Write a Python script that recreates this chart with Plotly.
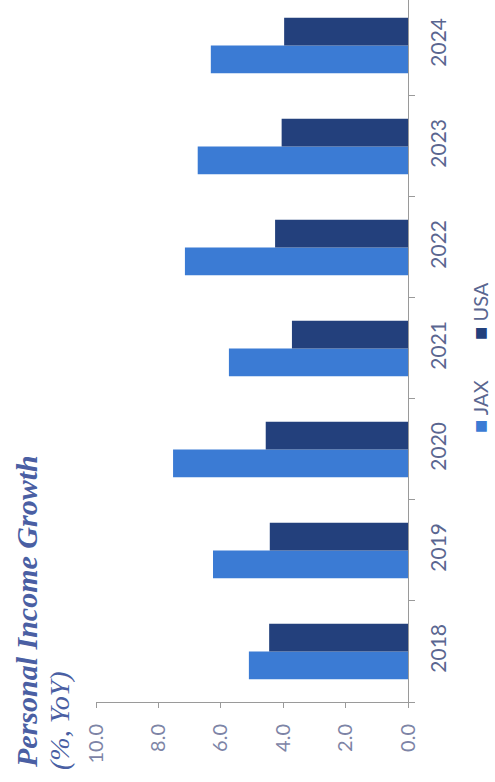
import plotly.graph_objects as go

years = ["2018", "2019", "2020", "2021", "2022", "2023", "2024"]
jax = [5.1, 6.25, 7.53, 5.74, 7.15, 6.74, 6.32]
usa = [4.45, 4.43, 4.56, 3.72, 4.26, 4.05, 3.97]
value_ticks = [0, 2, 4, 6, 8, 10]

JAX_COLOR = "#3b7bd4"
USA_COLOR = "#23407c"
TXT = "#5a6690"
TITLE_C = "#4a5fa3"

fig = go.Figure()
fig.add_trace(go.Bar(y=years, x=jax, orientation="h", name="JAX",
                     marker=dict(color=JAX_COLOR, line=dict(width=0))))
fig.add_trace(go.Bar(y=years, x=usa, orientation="h", name="USA",
                     marker=dict(color=USA_COLOR, line=dict(width=0))))

W, H = 495, 782
L, R, T, B = 96, 87, 0, 80
pw, ph = W - L - R, H - T - B


def px(x, y):
    return (x - L) / pw, (H - B - y) / ph


annots = []
tx, ty = px(26, 612)
annots.append(dict(text="<b><i>Personal Income Growth</i></b>", x=tx, y=ty,
                   xref="paper", yref="paper", showarrow=False, textangle=-90,
                   xanchor="center", yanchor="middle",
                   font=dict(family="Liberation Serif", size=30, color=TITLE_C)))
sx, sy = px(59, 721)
annots.append(dict(text="<i>(%, YoY)</i>", x=sx, y=sy,
                   xref="paper", yref="paper", showarrow=False, textangle=-90,
                   xanchor="center", yanchor="middle",
                   font=dict(family="Liberation Serif", size=28, color=TITLE_C)))
for name, col, cy in [("JAX", JAX_COLOR, 407), ("USA", USA_COLOR, 311)]:
    lx, ly = px(479, cy)
    annots.append(dict(text=f'<span style="color:{col};font-size:22px">■</span> {name}',
                       x=lx, y=ly,
                       xref="paper", yref="paper", showarrow=False, textangle=-90,
                       xanchor="center", yanchor="middle", borderpad=0,
                       font=dict(family="Lato", size=20, color=TXT)))

fig.update_layout(
    width=W, height=H,
    margin=dict(l=L, r=R, t=T, b=B, pad=0),
    paper_bgcolor="white", plot_bgcolor="white",
    barmode="group", bargap=0.45, bargroupgap=0,
    showlegend=False,
    annotations=annots,
    xaxis=dict(range=[10, 0], tickvals=value_ticks, tickformat=".1f",
               tickangle=-90, showgrid=False, zeroline=False,
               showline=True, linecolor="#9a9a9a", linewidth=1,
               ticks="outside", ticklen=5, tickcolor="#9a9a9a",
               ticklabelstandoff=8,
               tickfont=dict(family="Lato", size=20, color="#7d84a6")),
    yaxis=dict(side="right", range=[-0.5, 6.45], tickangle=-90,
               showgrid=False, zeroline=False,
               showline=True, linecolor="#9a9a9a", linewidth=1,
               ticks="outside", ticklen=6, tickcolor="#9a9a9a",
               tickson="boundaries", ticklabelstandoff=12,
               tickfont=dict(family="Lato", size=21, color=TXT)),
)

fig.write_html("out.html", config={"displayModeBar": False},
               post_script="document.body.style.margin='0';document.body.style.padding='0';")
